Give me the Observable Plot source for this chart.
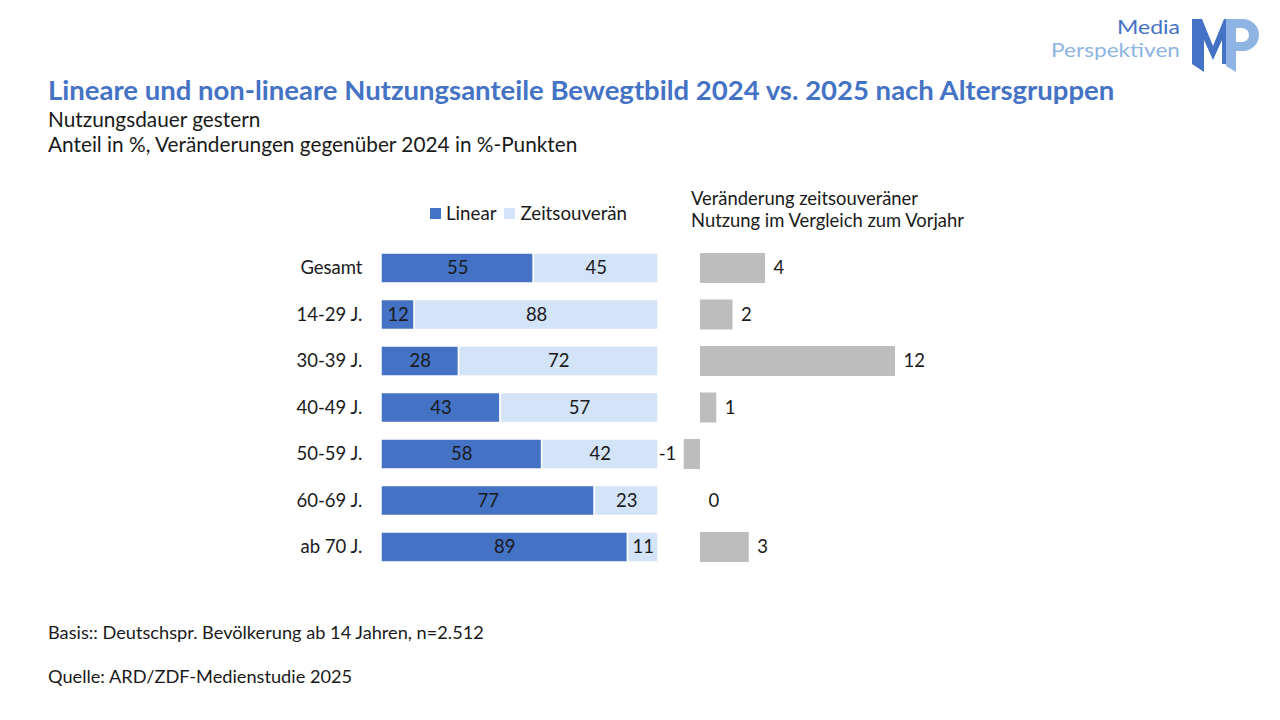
<!DOCTYPE html>
<html>
<head>
<meta charset="utf-8">
<script src="https://cdn.jsdelivr.net/npm/d3@7"></script>
<script src="https://cdn.jsdelivr.net/npm/@observablehq/plot@0.6"></script>
<style>
  html, body { margin: 0; padding: 0; background: #fff; }
  body { width: 1280px; height: 720px; position: relative; overflow: hidden; font-family: Lato, "Noto Sans", sans-serif; color: #1a1a1a; }
  .abs { position: absolute; white-space: nowrap; }
  #title { left: 48px; top: 76px; font-size: 27.5px; line-height: 28px; font-weight: bold; color: #4472C4; }
  .sub { left: 48px; font-size: 20.8px; line-height: 22px; }
  .foot { left: 48px; font-size: 18.2px; }
  #rhead { left: 691px; top: 187px; font-size: 18.4px; line-height: 22px; }
  #legend { left: 430px; top: 202px; font-size: 18.7px; display: flex; align-items: center; }
  #legend .sw { width: 11px; height: 11px; display: inline-block; margin-right: 5px; }
  .plot { position: absolute; left: 0; top: 0; }
  #logo { left: 1040px; top: 14px; }
</style>
</head>
<body>
<div id="title" class="abs">Lineare und non-lineare Nutzungsanteile Bewegtbild 2024 vs. 2025 nach Altersgruppen</div>
<div class="abs sub" style="top:108px">Nutzungsdauer gestern</div>
<div class="abs sub" style="top:133px">Anteil in %, Veränderungen gegenüber 2024 in %-Punkten</div>
<div id="legend" class="abs"><span class="sw" style="background:#4472C4"></span>Linear<span class="sw" style="background:#D3E3F8;margin-left:8px"></span>Zeitsouverän</div>
<div id="rhead" class="abs">Veränderung zeitsouveräner<br>Nutzung im Vergleich zum Vorjahr</div>
<div class="abs foot" style="top:621px">Basis:: Deutschspr. Bevölkerung ab 14 Jahren, n=2.512</div>
<div class="abs foot" style="top:665px">Quelle: ARD/ZDF-Medienstudie 2025</div>
<div id="logo" class="abs">
  <svg width="225" height="62" viewBox="0 0 225 62">
    <text x="140" y="20" text-anchor="end" font-size="19" fill="#4472C4" font-family="Lato, sans-serif" textLength="63" lengthAdjust="spacingAndGlyphs">Media</text>
    <text x="140" y="43" text-anchor="end" font-size="19" fill="#8EB4E3" font-family="Lato, sans-serif" textLength="129" lengthAdjust="spacingAndGlyphs">Perspektiven</text>
    <polygon points="152,5 162,5 173,32 184,5 192,5 192,50 182,50 182,26 173,46 164,26 164,58 152,50" fill="#4472C4"/>
    <path d="M186,5 H203 A15,15 0 0 1 203,37 H196 V58 L186,52 Z M196,14 V28 H202 A7,7 0 0 0 202,14 Z" fill="#8EB4E3" fill-rule="evenodd"/>
  </svg>
</div>
<div id="chart"></div>
<script>
const groups = ["Gesamt", "14-29 J.", "30-39 J.", "40-49 J.", "50-59 J.", "60-69 J.", "ab 70 J."];
const linear = [55, 12, 28, 43, 58, 77, 89];
const zeitsouveraen = [45, 88, 72, 57, 42, 23, 11];
const change = [4, 2, 12, 1, -1, 0, 3];
const seriesNames = ["Linear", "Zeitsouverän"];
const seriesColors = ["#4472C4", "#D3E3F8"];

const stacked = [];
groups.forEach((g, i) => {
  stacked.push({group: g, series: "Linear", value: linear[i]});
  stacked.push({group: g, series: "Zeitsouverän", value: zeitsouveraen[i]});
});
const changes = groups.map((g, i) => ({group: g, value: change[i]}));

const W = 1280, H = 600;
const FS = 18.5;
const font = "Lato, 'Noto Sans', sans-serif";
const yOpts = {domain: groups, padding: 0, round: false};
const inset = 8.25;

const left = Plot.plot({
  width: W, height: H,
  marginLeft: 381, marginRight: W - 658, marginTop: 244.75, marginBottom: H - 570.25,
  style: {fontFamily: font, fontSize: FS + "px", background: "transparent", overflow: "visible", color: "#1a1a1a"},
  x: {domain: [0, 100], axis: null},
  y: {...yOpts, axis: null},
  color: {domain: seriesNames, range: seriesColors},
  marks: [
    Plot.barX(stacked, Plot.stackX({x: "value", y: "group", fill: "series", stroke: "white", strokeWidth: 1.5, insetTop: inset, insetBottom: inset, order: seriesNames})),
    Plot.text(stacked, Plot.stackX({x: "value", y: "group", text: "value", z: "series", order: seriesNames, fill: "#1a1a1a", fontSize: FS})),
    Plot.axisY({tickSize: 0, tickPadding: 19, fontSize: FS, label: null})
  ]
});
left.classList.add("plot");

const right = Plot.plot({
  width: W, height: H,
  marginLeft: 700, marginRight: W - 895, marginTop: 244.75, marginBottom: H - 570.25,
  style: {fontFamily: font, fontSize: FS + "px", background: "transparent", overflow: "visible", color: "#1a1a1a"},
  x: {domain: [0, 12], axis: null},
  y: {...yOpts, axis: null},
  marks: [
    Plot.barX(changes, {x1: 0, x2: "value", y: "group", fill: "#BDBDBD", insetTop: inset, insetBottom: inset}),
    Plot.text(changes.filter(d => d.value >= 0), {x: "value", y: "group", text: d => String(d.value),
      textAnchor: "start", dx: 8, fill: "#1a1a1a", fontSize: FS}),
    Plot.text(changes.filter(d => d.value < 0), {x: "value", y: "group", text: d => String(d.value),
      textAnchor: "end", dx: -8, fill: "#1a1a1a", fontSize: FS})
  ]
});
right.classList.add("plot");
const c = document.getElementById("chart");
c.appendChild(left);
c.appendChild(right);
</script>
</body>
</html>
